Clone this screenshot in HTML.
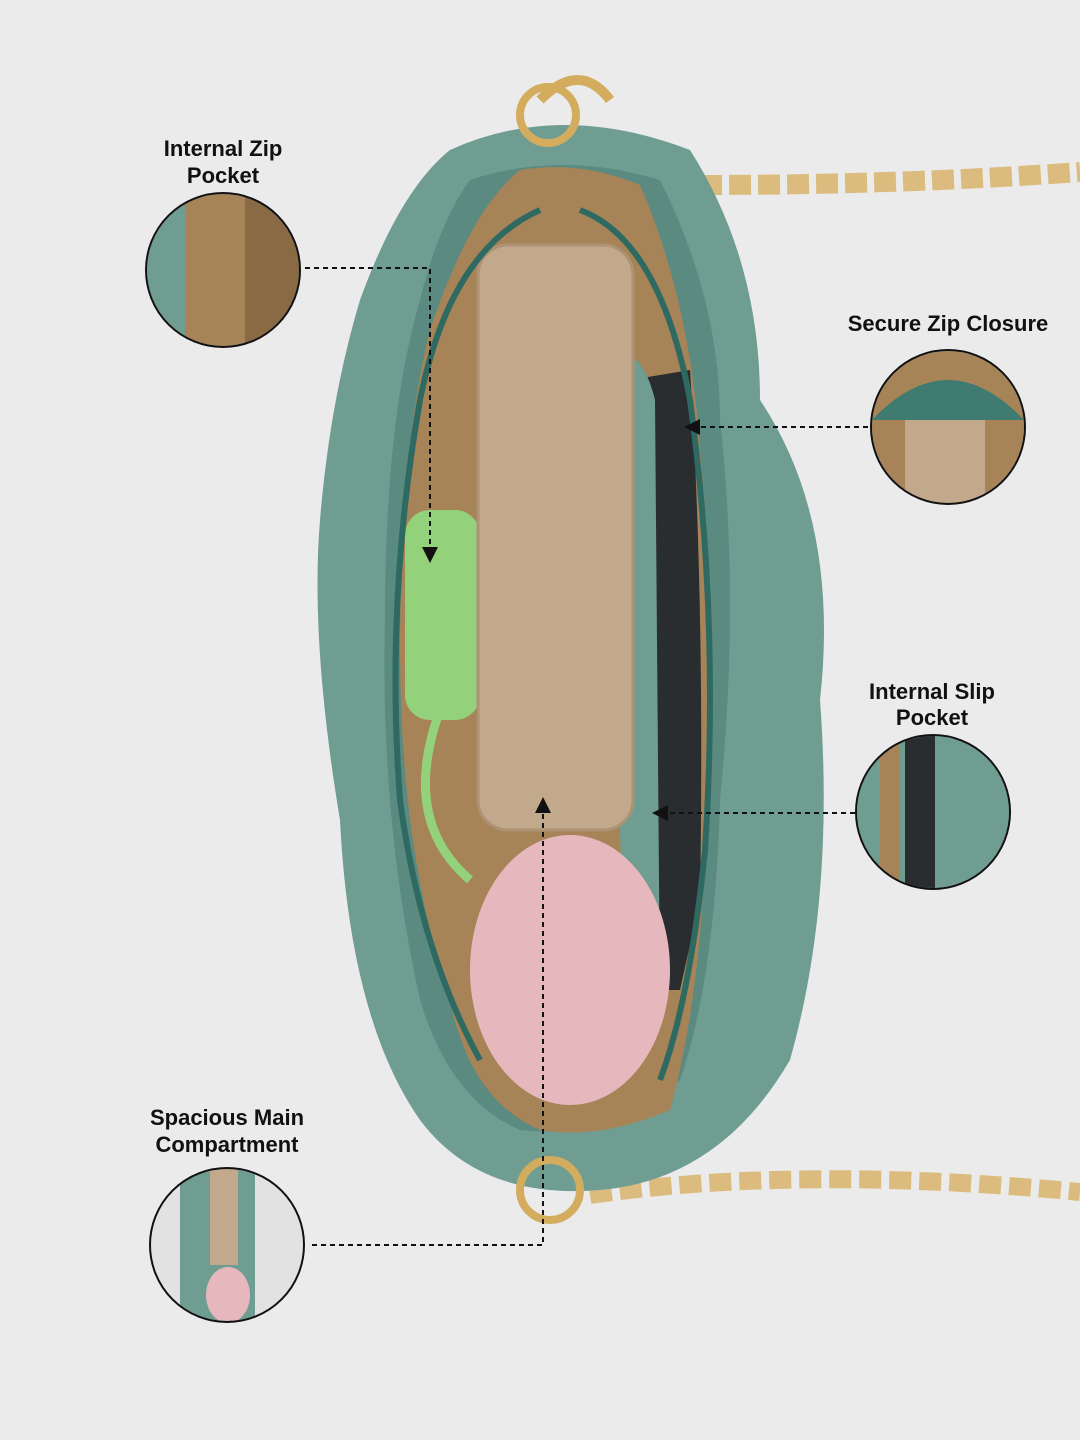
<!DOCTYPE html>
<html><head><meta charset="utf-8"><style>
html,body{margin:0;padding:0;background:#ebebeb;}
svg{display:block}
text{font-family:"Liberation Sans",Arial,sans-serif;font-weight:bold;font-size:22px;fill:#111;text-anchor:middle}
</style></head><body>
<svg width="1080" height="1440" viewBox="0 0 1080 1440" xmlns="http://www.w3.org/2000/svg">
<defs>
<marker id="ar" markerWidth="8" markerHeight="8" refX="4" refY="4" orient="auto"><path d="M0,0 L8,4 L0,8 z" fill="#111"/></marker>
<clipPath id="c1"><circle cx="223" cy="270" r="76"/></clipPath>
<clipPath id="c2"><circle cx="948" cy="427" r="76"/></clipPath>
<clipPath id="c3"><circle cx="933" cy="812" r="76"/></clipPath>
<clipPath id="c4"><circle cx="227" cy="1245" r="76"/></clipPath>
</defs>
<rect width="1080" height="1440" fill="#ebebeb"/>
<!-- chains -->
<path d="M700,185 Q900,185 1080,172" stroke="#d9b46b" stroke-width="20" fill="none" stroke-dasharray="22 7" opacity="0.85"/>
<path d="M590,1195 Q800,1165 1080,1192" stroke="#d9b46b" stroke-width="18" fill="none" stroke-dasharray="22 8" opacity="0.85"/>
<path d="M540,100 Q580,60 610,100" stroke="#d4ac5e" stroke-width="10" fill="none"/>
<!-- bag outer -->
<path d="M450,150 Q560,100 690,150 Q760,260 760,400 Q840,520 820,700 Q835,900 790,1060 Q720,1180 600,1190 Q480,1200 420,1120 Q350,1020 340,820 Q310,640 320,520 Q330,400 360,300 Q400,190 450,150 Z" fill="#6f9d91"/>
<path d="M470,180 Q560,150 660,180 Q720,300 720,420 Q740,600 720,800 Q715,980 680,1080 Q600,1140 520,1130 Q450,1100 420,1000 Q380,820 385,620 Q385,420 420,300 Q440,220 470,180 Z" fill="#5a8a80"/>
<!-- lining -->
<path d="M520,170 Q580,160 640,185 Q690,300 700,450 Q720,650 705,850 Q700,1000 670,1110 Q600,1140 540,1130 Q470,1100 450,1000 Q400,850 400,650 Q400,450 430,330 Q470,210 520,170 Z" fill="#a78458"/>
<rect x="405" y="510" width="75" height="210" rx="25" fill="#93d17a"/>
<path d="M440,710 Q400,820 470,880" stroke="#93d17a" stroke-width="9" fill="none"/>
<path d="M630,380 L690,370 Q705,600 700,900 L680,990 L640,990 Q625,700 630,380 Z" fill="#2a2d2f"/>
<path d="M610,360 Q640,340 655,400 L660,1000 L630,1030 Q610,700 610,360 Z" fill="#6f9d91"/>
<ellipse cx="570" cy="970" rx="100" ry="135" fill="#e6b8bd"/>
<rect x="478" y="245" width="155" height="585" rx="30" fill="#c3a98b" stroke="#ad9274" stroke-width="3"/>
<path d="M580,210 Q660,240 690,400 Q720,620 705,850 Q690,1000 660,1080" stroke="#2e6a62" stroke-width="6" fill="none"/>
<path d="M540,210 Q450,250 420,400 Q385,600 400,800 Q420,950 480,1060" stroke="#2e6a62" stroke-width="6" fill="none"/>
<circle cx="550" cy="1190" r="30" fill="none" stroke="#d4ac5e" stroke-width="8"/>
<circle cx="548" cy="115" r="28" fill="none" stroke="#d4ac5e" stroke-width="8"/>
<!-- circles -->
<g clip-path="url(#c1)"><rect x="140" y="190" width="170" height="170" fill="#6f9d91"/><rect x="185" y="190" width="60" height="170" fill="#a78458"/><rect x="245" y="190" width="60" height="170" fill="#8a6a45"/></g>
<circle cx="223" cy="270" r="77" fill="none" stroke="#111" stroke-width="2"/>
<g clip-path="url(#c2)"><rect x="860" y="340" width="180" height="180" fill="#a78458"/><rect x="905" y="395" width="80" height="120" fill="#c3a98b"/><path d="M872,420 Q948,340 1024,420 Z" fill="#3f7b70"/></g>
<circle cx="948" cy="427" r="77" fill="none" stroke="#111" stroke-width="2"/>
<g clip-path="url(#c3)"><rect x="850" y="730" width="170" height="170" fill="#6f9d91"/><rect x="905" y="730" width="30" height="170" fill="#2a2d2f"/><rect x="880" y="730" width="20" height="170" fill="#a78458"/></g>
<circle cx="933" cy="812" r="77" fill="none" stroke="#111" stroke-width="2"/>
<g clip-path="url(#c4)"><rect x="140" y="1160" width="180" height="180" fill="#e2e2e2"/><rect x="180" y="1165" width="75" height="160" fill="#6f9d91"/><rect x="210" y="1165" width="28" height="100" fill="#c3a98b"/><ellipse cx="228" cy="1295" rx="22" ry="28" fill="#e6b8bd"/></g>
<circle cx="227" cy="1245" r="77" fill="none" stroke="#111" stroke-width="2"/>
<!-- labels -->
<text x="223" y="156">Internal Zip</text><text x="223" y="183">Pocket</text>
<text x="948" y="331">Secure Zip Closure</text>
<text x="932" y="699">Internal Slip</text><text x="932" y="725">Pocket</text>
<text x="227" y="1125">Spacious Main</text><text x="227" y="1152">Compartment</text>
<g stroke="#111" stroke-width="2" stroke-dasharray="5 4" fill="none">
<path d="M305,268 H430 V555" marker-end="url(#ar)"/>
<path d="M868,427 H692" marker-end="url(#ar)"/>
<path d="M855,813 H660" marker-end="url(#ar)"/>
<path d="M312,1245 H543 V805" marker-end="url(#ar)"/>
</g>
</svg>
</body></html>
